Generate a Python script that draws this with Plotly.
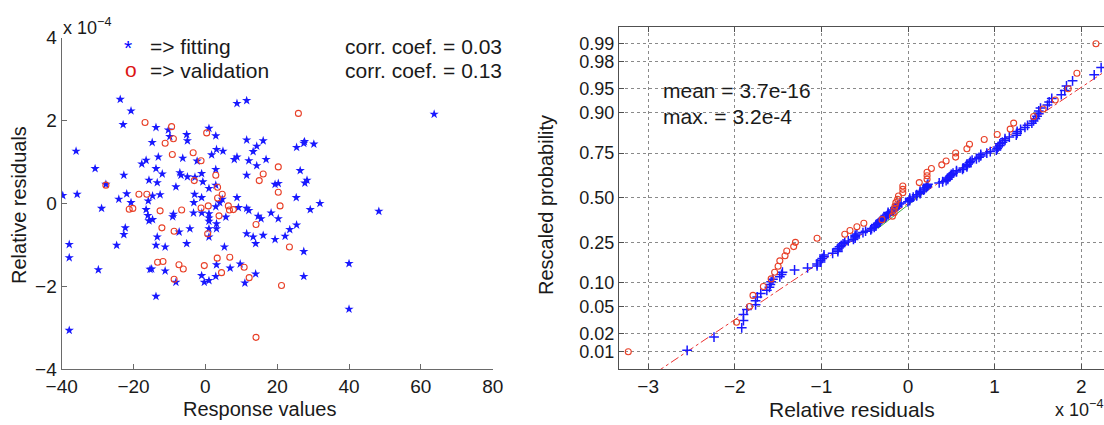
import plotly.graph_objects as go
from statistics import NormalDist

# ---------------- data (residuals in units of 1e-4) ----------------
fit_response = [-23.7, -20.7, -22.9, -36.0, -30.7, -22.7, -27.7, -39.7, -35.7, -24.1,
                -21.9, -20.7, -13.75, -10.3, -9.9, -14.8, -5.2, -5.0, -13.1, -16.5,
                -17.7, -6.3, -2.3, -13.75, -12.0, -7.1, -6.8, -15.7, -13.4, -5.0,
                -2.9, -8.2, -3.0, -3.2, -28.9, -14.7, -12.6, -15.9, -16.5, 8.8,
                11.5, 1.0, 2.9, 11.5, 16.1, 14.3, 13.3, 3.1, 4.9, 1.75,
                8.8, 8.05, 12.1, 16.9, 14.3, -1.04, -0.7, 2.9, 11.5, 1.0,
                2.9, 19.4, 20.3, -1.04, 8.8, 4.7, 4.0, 2.9, 11.5, 12.1,
                9.2, 25.4, 27.4, 27.6, 30.2, 26.4, 28.3, 27.7, 25.3, 31.9,
                29.2, 63.7, 48.3, -16.0, -14.7, -15.7, -8.9, -9.1, -22.3, -22.7,
                -37.9, -37.9, -29.8, -24.7, -13.4, -13.75, -11.2, -7.3, -4.3, -5.2,
                -14.95, -15.4, -11.2, -8.2, -13.75, -37.9, -3.3, 1.0, 1.0, 1.0,
                3.1, 3.1, 1.0, 1.0, -1.0, 5.7, 14.7, 15.5, 18.3, 20.3,
                25.4, 23.5, 22.2, 19.4, 16.1, 13.3, 14.0, 11.5, 5.3, 27.4,
                3.1, 6.9, 9.7, -1.04, -0.3, 1.0, 2.9, 14.0, 11.0, 27.4,
                40.0, 40.0]
fit_residual = [2.51, 2.23, 1.90, 1.26, 0.84, 0.68, 0.46, 0.19, 0.22, 0.10,
                0.23, 0.02, 1.83, 1.77, 1.61, 1.47, 1.66, 1.51, 1.12, 1.04,
                0.95, 1.09, 1.02, 0.84, 0.71, 0.74, 0.68, 0.56, 0.50, 0.64,
                0.63, 0.40, 0.22, 0.02, -0.12, 0.18, 0.21, 0.06, -0.15, 2.41,
                2.48, 1.81, 1.63, 1.53, 1.51, 1.38, 1.25, 1.30, 1.26, 1.17,
                1.12, 1.06, 1.03, 1.06, 0.91, 0.72, 0.52, 0.82, 0.68, 0.36,
                0.44, 0.46, 0.48, 0.14, 0.14, 0.10, 0.02, -0.08, -0.12, -0.17,
                -0.10, 1.35, 1.45, 1.49, 1.43, 0.79, 0.56, 0.49, 0.14, 0.00,
                -0.15, 2.15, -0.19, -0.29, -0.39, -0.42, -0.26, -0.32, -0.59, -0.75,
                -0.99, -1.31, -1.60, -1.01, -0.81, -1.01, -1.05, -0.69, -0.61, -0.97,
                -1.58, -1.59, -1.63, -1.90, -2.24, -3.06, -0.23, -0.25, -0.35, -0.43,
                -0.49, -0.61, -0.61, -0.81, -0.23, -0.33, -0.31, -0.37, -0.23, -0.37,
                -0.52, -0.63, -0.79, -0.87, -0.77, -0.81, -0.97, -0.73, -1.05, -1.16,
                -1.48, -1.56, -1.46, -1.74, -1.90, -1.86, -1.76, -1.70, -1.92, -1.76,
                -1.45, -2.55]

val_response = [-27.7, -21.2, -20.2, -18.5, -16.8, -16.3, -13.3, -12.6, -12.1, -11.8,
                -11.2, -9.4, -9.2, -8.9, -8.7, -8.7, -7.35, -6.6, -6.15, -3.4,
                -3.1, -1.2, -1.2, -0.3, 0.36, 0.64, 0.8, 2.9, 3.3, 3.4,
                3.4, 3.8, 4.5, 4.7, 6.4, 6.7, 6.8, 7.8, 10.8, 12.2,
                14.1, 14.1, 15.0, 16.1, 20.3, 20.3, 20.8, 21.2, 23.4, 25.9]
val_residual = [0.44, -0.14, -0.12, 0.22, 1.95, 0.22, -1.42, -0.18, -0.59, -1.40,
                1.45, 1.85, 1.18, 1.56, -0.67, -1.83, -1.48, -0.16, -1.58, 1.22,
                0.55, 1.03, -0.11, -1.50, 1.70, -0.73, -0.06, 0.68, -1.32, 0.39,
                0.13, -0.30, -1.67, 0.22, -0.06, -0.16, -1.30, -0.15, -1.54, -1.79,
                -0.51, -3.23, 0.55, 0.71, 0.88, 0.27, -0.06, -1.98, -1.05, 2.17]

left_x_ticks = [-40, -20, 0, 20, 40, 60, 80]
left_y_ticks = [-4, -2, 0, 2, 4]
right_x_ticks = [-3, -2, -1, 0, 1, 2]
prob_ticks = [0.01, 0.02, 0.05, 0.10, 0.25, 0.50, 0.75, 0.90, 0.95, 0.98, 0.99]
prob_tick_labels = ["0.01", "0.02", "0.05", "0.10", "0.25", "0.50",
                    "0.75", "0.90", "0.95", "0.98", "0.99"]

# reference normal line and short green segment
ref_mu = 0.10
ref_sigma = 1.14
ref_line_x = [-3.6, 3.0]
green_seg_x = [-0.35, 0.28]
green_seg_p = [0.32, 0.57]

legend_fit = "=> fitting"
legend_val = "=> validation"
corr_fit = "corr. coef. = 0.03"
corr_val = "corr. coef. = 0.13"
stat_mean = "mean = 3.7e-16"
stat_max = "max. = 3.2e-4"

# ---------------- helpers ----------------
W, H = 1104, 425
ND = NormalDist()
FONT = "Liberation Sans, Arial, Helvetica, sans-serif"
BLUE = "rgb(25,25,255)"
RED = "rgb(232,64,40)"


def px2x(px):
    return px / W


def py2y(py):
    return 1 - py / H


def normplot(values):
    """Normal probability plot positions: sorted data vs. (i-0.5)/n quantiles."""
    s = sorted(values)
    n = len(s)
    z = [ND.inv_cdf((i + 0.5) / n) for i in range(n)]
    return s, z


fit_sorted, fit_z = normplot(fit_residual)
val_sorted, val_z = normplot(val_residual)
ref_line_z = [(x - ref_mu) / ref_sigma for x in ref_line_x]
green_seg_z = [ND.inv_cdf(p) for p in green_seg_p]
prob_tick_z = [ND.inv_cdf(p) for p in prob_ticks]

fig = go.Figure()

# ---------------- left panel ----------------
fig.add_trace(go.Scatter(x=fit_response, y=fit_residual, mode="markers",
                         marker=dict(symbol="star", size=7, color=BLUE,
                                     line=dict(width=0)),
                         xaxis="x", yaxis="y", showlegend=False))
fig.add_trace(go.Scatter(x=val_response, y=val_residual, mode="markers",
                         marker=dict(symbol="circle-open", size=6, color=RED,
                                     line=dict(width=1.1)),
                         xaxis="x", yaxis="y", showlegend=False))

# ---------------- right panel ----------------
fig.add_trace(go.Scatter(x=ref_line_x, y=ref_line_z, mode="lines",
                         line=dict(color="rgb(235,50,50)", width=1, dash="dashdot"),
                         xaxis="x2", yaxis="y2", showlegend=False))
fig.add_trace(go.Scatter(x=green_seg_x, y=green_seg_z, mode="lines",
                         line=dict(color="rgb(60,170,60)", width=1),
                         xaxis="x2", yaxis="y2", showlegend=False))
fig.add_trace(go.Scatter(x=fit_sorted, y=fit_z, mode="markers",
                         marker=dict(symbol="cross-thin-open", size=7, color=BLUE,
                                     line=dict(width=1.5, color=BLUE)),
                         xaxis="x2", yaxis="y2", showlegend=False, cliponaxis=True))
fig.add_trace(go.Scatter(x=val_sorted, y=val_z, mode="markers",
                         marker=dict(symbol="circle-open", size=6, color=RED,
                                     line=dict(width=1.1)),
                         xaxis="x2", yaxis="y2", showlegend=False, cliponaxis=True))

tickfont = dict(family=FONT, size=19, color="#1a1a1a")
tickfont_prob = dict(family=FONT, size=18, color="#1a1a1a")

fig.update_layout(
    width=W, height=H,
    margin=dict(l=0, r=0, t=0, b=0, pad=0),
    paper_bgcolor="white", plot_bgcolor="white",
    font=dict(family=FONT, color="#1a1a1a"),
    xaxis=dict(domain=[px2x(61.7), px2x(492.7)], range=[-40, 80],
               tickvals=left_x_ticks, ticks="inside", ticklen=5,
               tickcolor="#6a6a6a", showline=True, linecolor="#6a6a6a",
               linewidth=1.3, showgrid=False, zeroline=False,
               tickfont=tickfont, anchor="y", automargin=False),
    yaxis=dict(domain=[py2y(369.3), py2y(37.5)], range=[-4, 4],
               tickvals=left_y_ticks, ticks="inside", ticklen=5,
               tickcolor="#6a6a6a", showline=True, linecolor="#6a6a6a",
               linewidth=1.3, showgrid=False, zeroline=False,
               tickfont=tickfont, anchor="x", automargin=False),
    xaxis2=dict(domain=[px2x(619), 1.0], range=[-3.337, 2.263],
                tickvals=right_x_ticks, ticks="inside", ticklen=5,
                tickcolor="#505050", showline=True, linecolor="#505050",
                linewidth=1.3, mirror="ticks", showgrid=True,
                gridcolor="#8a8a8a", griddash="dot", gridwidth=1,
                zeroline=False, tickfont=tickfont, anchor="y2",
                automargin=False),
    yaxis2=dict(domain=[py2y(369), py2y(26.7)], range=[-2.588, 2.583],
                tickvals=prob_tick_z, ticktext=prob_tick_labels,
                ticks="inside", ticklen=5, tickcolor="#505050",
                showline=True, linecolor="#505050", linewidth=1.3,
                mirror=False, showgrid=True, gridcolor="#8a8a8a",
                griddash="dot", gridwidth=1, zeroline=False,
                tickfont=tickfont_prob, anchor="x2", automargin=False),
)

annotations = []


def ann(px, py, text, size=21, color="#1a1a1a", xanchor="left", textangle=0):
    annotations.append(dict(x=px2x(px), y=py2y(py), xref="paper", yref="paper",
                            text=text, showarrow=False, xanchor=xanchor,
                            yanchor="middle", textangle=textangle,
                            font=dict(family=FONT, size=size, color=color)))


# left panel texts
ann(61, 27, "x 10<sup>−4</sup>", size=18)
ann(122, 48, "*", size=21, color="rgb(0,0,255)")
ann(148, 46, legend_fit)
ann(123, 69, "o", size=21, color="rgb(220,20,20)")
ann(148, 71, legend_val)
ann(343, 46, corr_fit)
ann(343, 71, corr_val)
ann(259, 409, "Response values", size=20, xanchor="center")
ann(19, 205, "Relative residuals", size=20, xanchor="center", textangle=-90)

# right panel texts
ann(661, 90, stat_mean)
ann(661, 117, stat_max)
ann(852, 409, "Relative residuals", size=21, xanchor="center")
ann(546, 205, "Rescaled probability", size=20, xanchor="center", textangle=-90)
ann(1053, 408, "x 10<sup>−4</sup>", size=18)

fig.update_layout(annotations=annotations)

# remove the browser's default body margin so the figure fills the window
fig.write_html("out.html",
               config={"displayModeBar": False},
               post_script="document.body.style.margin='0px';"
                           "document.body.style.overflow='hidden';")
